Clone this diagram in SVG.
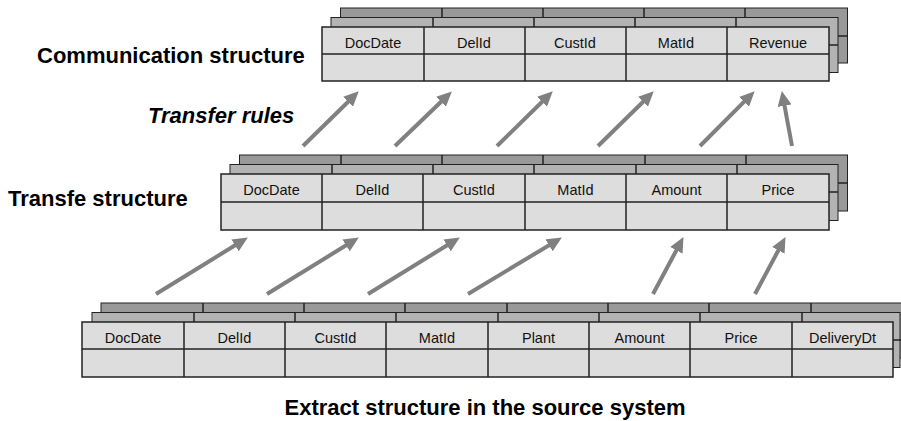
<svg xmlns="http://www.w3.org/2000/svg" width="901" height="421" viewBox="0 0 901 421">
<style>
.l3{fill:#999999;stroke:#222;stroke-width:1}
.l2{fill:#b3b3b3;stroke:#222;stroke-width:1}
.l1{fill:#dddddd;stroke:#222;stroke-width:1.5}
.d{stroke:#222;stroke-width:1.5}
.c{font-family:"Liberation Sans",Arial,sans-serif;font-size:14.5px;text-anchor:middle;fill:#111}
.h{font-family:"Liberation Sans",Arial,sans-serif;font-size:22px;font-weight:bold;fill:#000}
.a{stroke:#808080;stroke-width:4;fill:none;marker-end:url(#ah)}
</style>
<defs>
<marker id="ah" markerUnits="userSpaceOnUse" markerWidth="16" markerHeight="14" refX="3" refY="7" orient="auto">
<path d="M0,0 L15,7 L0,14 z" fill="#808080"/>
</marker>
</defs>
<rect width="901" height="421" fill="#fff"/>

<g id="comm">
<rect class="l3" x="340.5" y="8" width="507" height="55"/>
<path class="d" d="M442 8V18M543 8V18M644 8V18M745 8V18M838 36H847" stroke-width="1"/>
<rect class="l2" x="331" y="17.5" width="507" height="55"/>
<path class="d" d="M433 17.5V27M534 17.5V27M635 17.5V27M736 17.5V27M829 45H838" stroke-width="1"/>
<rect class="l1" x="322" y="27" width="507" height="54"/>
<path class="d" d="M424 27V81M525 27V81M626 27V81M727 27V81M322 54H829"/>
<text class="c" x="373" y="48">DocDate</text>
<text class="c" x="474" y="48">DelId</text>
<text class="c" x="575" y="48">CustId</text>
<text class="c" x="676" y="48">MatId</text>
<text class="c" x="778" y="48">Revenue</text>
</g>

<g id="transfer">
<rect class="l3" x="239.5" y="155" width="608" height="56"/>
<path class="d" d="M341 155V165M442 155V165M543 155V165M645 155V165M746 155V165M838 183H847" stroke-width="1"/>
<rect class="l2" x="230" y="164.5" width="608" height="56"/>
<path class="d" d="M332 164.5V174M433 164.5V174M534 164.5V174M636 164.5V174M737 164.5V174M829 192H838" stroke-width="1"/>
<rect class="l1" x="221" y="174" width="608" height="56"/>
<path class="d" d="M322 174V230M423 174V230M525 174V230M626 174V230M727 174V230M221 202H829"/>
<text class="c" x="271.5" y="195">DocDate</text>
<text class="c" x="372.5" y="195">DelId</text>
<text class="c" x="474" y="195">CustId</text>
<text class="c" x="575.5" y="195">MatId</text>
<text class="c" x="676.5" y="195">Amount</text>
<text class="c" x="778" y="195">Price</text>
</g>

<g id="extract">
<rect class="l3" x="101" y="303" width="811" height="55"/>
<path class="d" d="M203 303V313M304 303V313M405 303V313M507 303V313M608 303V313M709 303V313M811 303V313" stroke-width="1"/>
<rect class="l2" x="92" y="312.5" width="808" height="55"/>
<path class="d" d="M194 312.5V322M295 312.5V322M396 312.5V322M498 312.5V322M599 312.5V322M700 312.5V322M802 312.5V322M893 340H901" stroke-width="1"/>
<rect class="l1" x="82" y="322" width="811" height="55"/>
<path class="d" d="M184 322V377M285 322V377M386 322V377M488 322V377M589 322V377M690 322V377M792 322V377M82 349H893"/>
<text class="c" x="133" y="343">DocDate</text>
<text class="c" x="234.5" y="343">DelId</text>
<text class="c" x="335.5" y="343">CustId</text>
<text class="c" x="437" y="343">MatId</text>
<text class="c" x="538.5" y="343">Plant</text>
<text class="c" x="639.5" y="343">Amount</text>
<text class="c" x="741" y="343">Price</text>
<text class="c" x="842.5" y="343">DeliveryDt</text>
</g>

<g id="labels">
<text class="h" x="37" y="63">Communication structure</text>
<text class="h" x="148" y="123" font-style="italic">Transfer rules</text>
<text class="h" x="8" y="206">Transfe structure</text>
<text class="h" x="485" y="415" text-anchor="middle">Extract structure in the source system</text>
</g>

<g id="connectors">
<line class="a" x1="303" y1="146" x2="350.2" y2="99.7"/>
<line class="a" x1="395" y1="146" x2="443.2" y2="99.7"/>
<line class="a" x1="497" y1="146" x2="544.2" y2="99.7"/>
<line class="a" x1="598" y1="146" x2="645.2" y2="99.7"/>
<line class="a" x1="700" y1="146" x2="746.2" y2="99.7"/>
<line class="a" x1="792" y1="146" x2="784" y2="102.8"/>
<line class="a" x1="156" y1="294" x2="237.6" y2="243.8"/>
<line class="a" x1="267" y1="294" x2="348.6" y2="243.8"/>
<line class="a" x1="368" y1="294" x2="449.6" y2="243.8"/>
<line class="a" x1="468" y1="294" x2="551.6" y2="243.7"/>
<line class="a" x1="653" y1="294" x2="677.8" y2="247.7"/>
<line class="a" x1="755" y1="294" x2="779.8" y2="247.7"/>
</g>
</svg>
